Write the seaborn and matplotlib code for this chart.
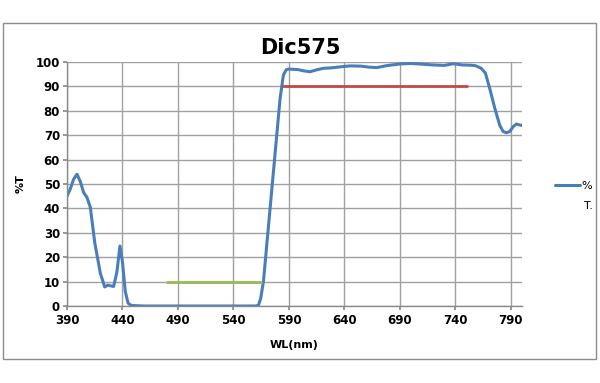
import matplotlib
matplotlib.use("Agg")
import matplotlib.pyplot as plt
import seaborn as sns
import pandas as pd
from matplotlib.patches import Rectangle

# Data
wl = [390, 393, 396, 399, 402, 405, 408, 411, 415, 420, 424, 427, 429, 432, 435, 437.7, 440, 442.5, 445, 448,
      460, 500, 540, 560, 562.5, 564.5, 567, 570, 573, 576, 579, 582, 585, 587.5, 589.5, 594, 598, 603, 609,
      615, 621, 628, 636, 645, 655, 662, 669, 678, 690, 700, 710, 720, 730, 738, 746, 753, 758, 763, 767,
      771, 775.5, 780, 783, 786, 789, 792, 795, 797, 800]
trans = [45, 48, 52, 54, 51, 46.5, 44.5, 40.5, 26, 13.5, 7.8, 8.6, 8.3, 8, 14, 24.6, 18, 6, 1.2, 0.2,
         0, 0, 0, 0, 0.3, 3, 10, 25, 40, 55, 70, 85, 94.7, 96.8, 97.1, 97, 96.9, 96.4, 96,
         96.8, 97.4, 97.6, 98, 98.4, 98.3, 97.9, 97.7, 98.5, 99.2, 99.4, 99.1, 98.8, 98.6, 99.3, 98.8, 98.7, 98.5, 97.5, 95.5,
         89, 81, 74, 71.5, 71, 71.5, 73.5, 74.6, 74.3, 74]
red_wl = [585, 750]
red_t = [90, 90]
green_wl = [480, 565]
green_t = [10, 10]
xticks = [390, 440, 490, 540, 590, 640, 690, 740, 790]
yticks = [0, 10, 20, 30, 40, 50, 60, 70, 80, 90, 100]
legend_label = "%"
legend_label_cont = "T."

sns.set_theme(style="white")
plt.rcParams['font.family'] = ['DejaVu Sans']
plt.rcParams['text.color'] = 'black'

fig = plt.figure(figsize=(6, 3.83), dpi=100)
ax = fig.add_axes([67/600, 1-306/383, (522-67)/600, (306-62)/383])

df = pd.DataFrame({"WL": wl, "T": trans})
sns.lineplot(data=df, x="WL", y="T", ax=ax, color="#4A7EBB", linewidth=2.2, label=legend_label, sort=False)
sns.lineplot(x=red_wl, y=red_t, ax=ax, color="#BE4B48", linewidth=2.0, legend=False)
sns.lineplot(x=green_wl, y=green_t, ax=ax, color="#98B954", linewidth=2.0, legend=False)

ax.set_xlim(390, 800)
ax.set_ylim(0, 100)
ax.set_xticks(xticks)
ax.set_yticks(yticks)
ax.set_xticklabels([str(t) for t in xticks], fontsize=8.5, fontweight="bold", color="black")
ax.set_yticklabels([str(t) for t in yticks], fontsize=8.5, fontweight="bold", color="black")
ax.grid(True, color="#a0a0a0", linewidth=1.0)
ax.set_axisbelow(True)
for s in ["top", "right"]:
    ax.spines[s].set_visible(False)
for s in ["left", "bottom"]:
    ax.spines[s].set_color("#8a8a8a")
    ax.spines[s].set_linewidth(1.0)
ax.tick_params(axis="both", length=3, color="#8a8a8a", pad=2, direction="out")
ax.tick_params(axis="x", bottom=True, pad=3)
ax.tick_params(axis="y", left=True)
ax.set_xlabel("WL(nm)", fontsize=8, fontweight="bold", labelpad=9, color="black")
ax.set_ylabel("%T", fontsize=8, fontweight="bold", color="black")
ax.yaxis.set_label_coords(-(67-26)/455, 0.5)

leg = ax.legend(loc="center left", frameon=False, fontsize=8, handlelength=2.2,
                handletextpad=0.1, borderaxespad=0)
leg.set_bbox_to_anchor((551/600, 1-186/383), transform=fig.transFigure)
for t in leg.get_texts():
    t.set_color("black")
fig.text(584/600, 1-206/383, legend_label_cont, ha="left", va="center", fontsize=8, color="black")

fig.text(300/600, 1-48/383, "Dic575", ha="center", va="center", fontsize=15,
         fontweight="bold", color="black")
fig.patches.append(Rectangle((3/600, 1-359/383), 593/600, 336/383, transform=fig.transFigure,
                             fill=False, edgecolor="#8c8c8c", linewidth=1.0))

fig.savefig("out.png", dpi=100)
